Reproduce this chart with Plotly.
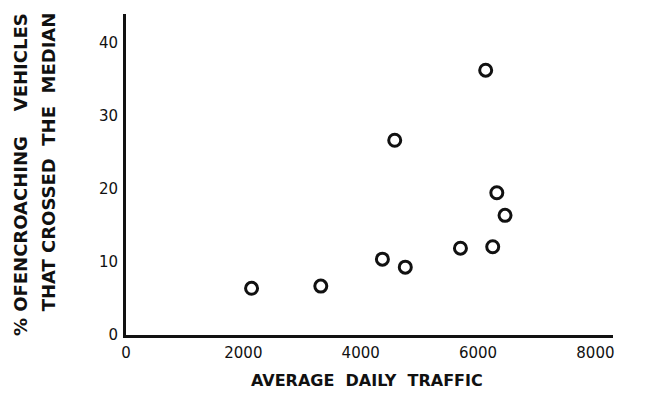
import plotly.graph_objects as go

# Data
adt = [2140, 3320, 4370, 4760, 4580, 6130, 6320, 6460, 5700, 6250]
pct = [6.4, 6.7, 10.4, 9.3, 26.7, 36.3, 19.5, 16.4, 11.9, 12.1]

x_ticks = [0, 2000, 4000, 6000, 8000]
y_ticks = [0, 10, 20, 30, 40]

x_title = "AVERAGE\u00a0\u00a0DAILY\u00a0\u00a0TRAFFIC"
y_title_1 = "%\u00a0OFENCROACHING\u00a0\u00a0\u00a0\u00a0VEHICLES"
y_title_2 = "THAT\u00a0CROSSED\u00a0\u00a0THE\u00a0\u00a0MEDIAN"

font_family = "DejaVu Sans, Liberation Sans, sans-serif"

fig = go.Figure()
fig.add_trace(go.Scatter(
    x=adt, y=pct, mode="markers",
    marker=dict(symbol="circle-open", size=12, color="#111111",
                line=dict(width=3, color="#111111")),
    showlegend=False, hoverinfo="skip",
))

fig.update_layout(
    width=663, height=402,
    margin=dict(l=126, r=50, t=14, b=67),
    paper_bgcolor="white", plot_bgcolor="white",
    font=dict(family=font_family, color="#111111", size=15),
    xaxis=dict(
        range=[0, 8300], tickvals=x_ticks, ticktext=[str(v) for v in x_ticks],
        showgrid=False, zeroline=False, showline=True, linewidth=3,
        linecolor="#111111", ticks="", ticklabelstandoff=2,
        tickfont=dict(size=15, family=font_family),
    ),
    yaxis=dict(
        range=[0, 44], tickvals=y_ticks, ticktext=[str(v) for v in y_ticks],
        showgrid=False, zeroline=False, showline=True, linewidth=3,
        linecolor="#111111", ticks="", ticklabelstandoff=2,
        tickfont=dict(size=15, family=font_family),
    ),
    annotations=[
        dict(text="<b>" + x_title + "</b>", xref="paper", yref="paper",
             x=0.495, y=-0.143, xanchor="center", yanchor="middle",
             showarrow=False, font=dict(size=16, family=font_family)),
        dict(text="<b>" + y_title_1 + "</b>", xref="paper", yref="paper",
             x=-0.218, y=1.01, xanchor="center", yanchor="top",
             textangle=-90, showarrow=False,
             font=dict(size=18, family=font_family)),
        dict(text="<b>" + y_title_2 + "</b>", xref="paper", yref="paper",
             x=-0.16, y=1.01, xanchor="center", yanchor="top",
             textangle=-90, showarrow=False,
             font=dict(size=18, family=font_family)),
    ],
)

fig.write_html("out.html")
